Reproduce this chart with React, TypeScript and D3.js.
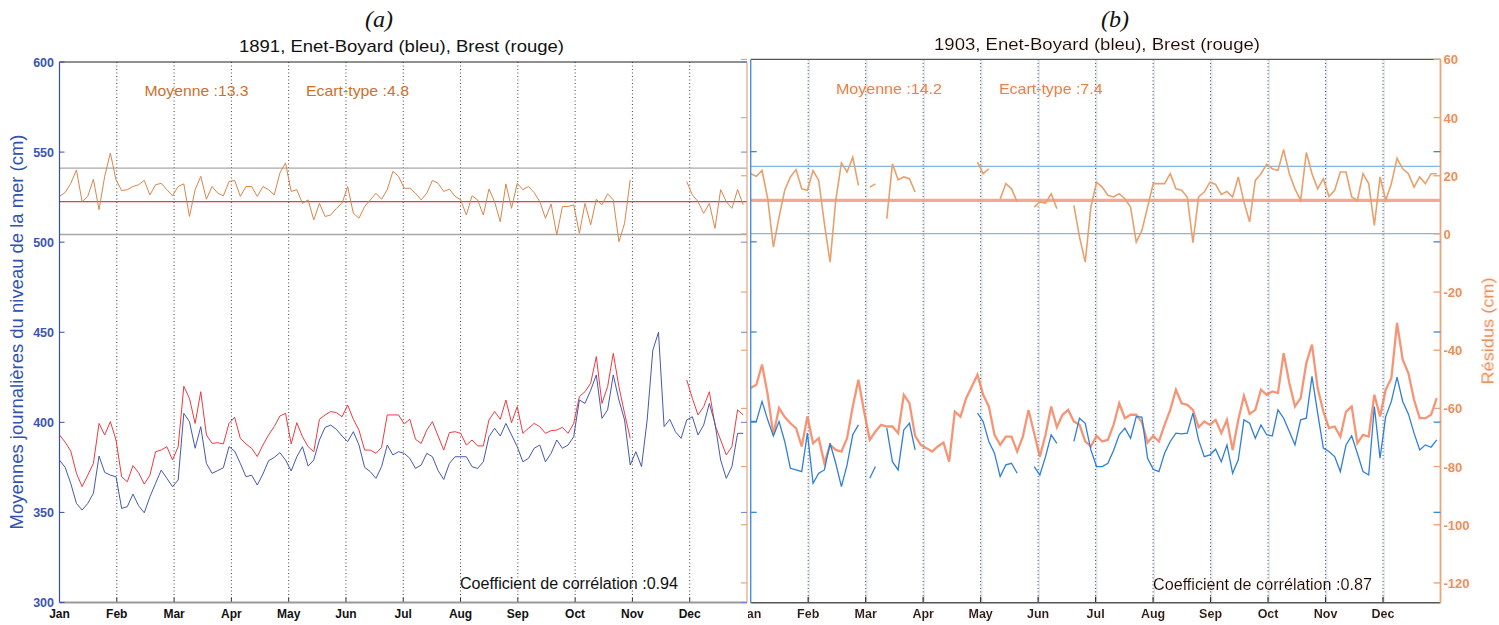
import React from 'react';
import * as d3 from 'd3';

// ---------- data (one value every 3 days, starting 1 January) ----------
const STEP_DAYS = 3;
const MONTHS = ['Jan', 'Feb', 'Mar', 'Apr', 'May', 'Jun', 'Jul', 'Aug', 'Sep', 'Oct', 'Nov', 'Dec'];
const LEFT_TICKS = [300, 350, 400, 450, 500, 550, 600];
const RES_TICKS = [-120, -100, -80, -60, -40, -20, 0, 20, 40, 60];

// (a) 1891 — Enet-Boyard (blue), Brest (red), residuals (orange)
const blueA: (number | null)[] = [
  379, 375, 366, 355, 351.3, 355, 360.6, 381.3, 372.2, 370.7, 369.8, 352.2, 353.2, 360.2, 353.7, 349.8,
  358.7, 366.1, 373.5, 368.9, 364.3, 368, 405, 400.4, 385.6, 397.6, 377.2, 371.7, 373.2, 374.8, 386.5, 384,
  377.2, 369.8, 370.7, 365.2, 371.3, 378.7, 380.5, 383.2, 379.1, 373, 380.9, 386.5, 375.7, 379.1, 390.2, 397.2,
  398.5, 396.1, 392.4, 389.3, 394.8, 387.4, 375, 372.6, 368.9, 375.4, 387.4, 381.9, 383.7, 382.8, 380, 374.4,
  376.3, 382.8, 380.9, 373.2, 368.3, 377.2, 380.9, 380.9, 380.9, 375.4, 374.4, 378.1, 392, 396.7, 392.4, 399.4,
  393, 386.5, 378.1, 380, 385.6, 387.4, 378.1, 382.8, 390.2, 385.6, 387.4, 392, 412.4, 410.5, 417.8, 426.3,
  402.2, 406.9, 426.3, 412.4, 401.3, 376.3, 383.7, 375.4, 401.3, 440, 450, 397.6, 401.7, 394.8, 391.1, 401.3,
  403.1, 393, 398.5, 410.5, 399.4, 379.1, 368.9, 375.4, 393.9, 393.9,
];
const redA: (number | null)[] = [
  393, 389, 384, 371.7, 364.3, 370.7, 377.2, 399.4, 393, 400.4, 390.2, 369.8, 367, 376, 372, 365.7,
  370.7, 383.7, 384.6, 386.5, 379.1, 386.5, 420, 413.3, 399.4, 417, 393, 388.3, 388.7, 388, 399.4, 402.8,
  391.1, 388, 385.6, 381, 387.4, 393, 397.6, 403.5, 405, 388, 399.8, 392, 386.5, 383.7, 401.7, 404.1,
  406, 405.4, 403.1, 409.6, 401.7, 395.7, 384.6, 384.6, 382.8, 386.1, 404.1, 404.1, 404.1, 399.1, 401.7, 390.6,
  388.3, 395.7, 400.4, 392.4, 384.6, 394.3, 394.8, 393.9, 387.4, 390.2, 386.9, 386.9, 401.3, 406, 401.7, 412.4,
  399.8, 408.7, 393.9, 396.7, 399.4, 397.6, 393.9, 395.4, 395.7, 397.2, 393.9, 399.4, 414.3, 417, 421.7, 436.5,
  410.5, 419.8, 438.3, 419.8, 405, 391.1, null, null, null, null, null, null, null, null, null, 423.5,
  413.3, 404.1, 408.7, 417, 398.5, 390.2, 381.9, 386.5, 406.9, 404.1,
];
const residA: (number | null)[] = [
  12.9, 14.2, 17.4, 22, 11.1, 12.9, 18.8, 8.3, 19.8, 27.8, 18.6, 14.9, 15.2, 16.3, 16.9, 18.4,
  13.4, 16.9, 17.4, 15.2, 13.1, 16.3, 17.2, 6.0, 15.2, 19.8, 11.9, 16.3, 14.0, 13.1, 18.0, 18.4,
  12.9, 16.3, 16.3, 12.9, 16.3, 15.2, 13.4, 20.9, 24.4, 14.6, 15.2, 10.5, 11.7, 4.8, 10.5, 6.0,
  6.5, 8.8, 10.5, 16.3, 7.1, 5.4, 9.4, 11.7, 14.0, 11.9, 15.2, 21.5, 19.8, 15.7, 15.7, 14.0,
  11.7, 14.0, 18.4, 17.4, 14.6, 15.4, 12.9, 11.7, 6.5, 13.1, 11.7, 6.5, 15.4, 11.1, 4.2, 17.2,
  8.8, 17.4, 15.2, 16.3, 14.2, 11.1, 5.4, 10.3, -0.4, 9.4, 9.4, 10.0, 0.2, 10.5, 3.1, 11.9,
  10.0, 13.8, 11.7, -2.7, 3.6, 18.6, null, null, null, null, null, null, null, null, null, 18.0,
  13.4, 11.1, 7.1, 10.5, 1.9, 15.2, 11.1, 8.8, 15.2, 10.0,
];
const refLinesA = [22.6, 11.1, -0.2];

// (b) 1903 — Enet-Boyard (blue), Brest (salmon), residuals (orange)
const blueB: (number | null)[] = [
  400.4, 400.4, 411.5, 401.3, 392.4, 400.4, 389.3, 374.4, 373.5, 372.6, 393.9, 366.1, 371.7, 373.5, 388.3, 377.2,
  364.3, 376.3, 393, 398.5, null, 368.9, 375.4, null, 396.7, 378.1, 373.5, 395.7, 399.4, 384.6, null, null,
  null, null, null, null, null, null, null, null, 405, 400.4, 389.3, 382.8, 369.8, 376.3, 377.2, 371.7,
  null, null, 375.4, 370.7, 380.9, 393, 388.3, null, null, 389.3, 402.2, 399.4, 384.6, 375.4, 375.4, 377.2,
  384.3, 393, 396.7, 391.1, 403.1, 402.8, 380, 373.9, 372.6, 382.8, 389.3, 393.9, 393.5, 393.9, 405, 390.2,
  380.9, 381.9, 385, 378.1, 387.4, 371.7, 379.1, 401.3, 399.4, 391.1, 398.5, 393, 392.4, 406.8, 402.2, 394.8,
  387.4, 401.3, 402.2, 425.4, 405, 385.6, 383.7, 380.9, 372.6, 387.4, 392.4, 382.8, 372.6, 370.7, 408.7, 380,
  403.1, 411.5, 425, 411.5, 404.6, 393.9, 384.6, 387.4, 386.1, 390.2,
];
const orangeB: (number | null)[] = [
  418.9, 420.7, 432, 415.2, 393, 407.8, 402.8, 399.4, 396.7, 386.5, 403.1, 388.3, 391.1, 377.2, 387.4, 384.6,
  383.7, 391.1, 408.7, 423.5, 405.9, 390.2, 394.8, 398.5, 397.6, 397.6, 393.9, 415.2, 410.5, 392.4, 387.4, 385.6,
  383.7, 386.5, 388.7, 378.1, 405.9, 403.1, 413.3, 419.8, 426.3, 415.2, 408.7, 393, 387.4, 392, 392, 383.7,
  392, 406.8, 393.9, 380.9, 393, 408.7, 397.2, 404.1, 406.8, 400.4, 398.5, 389.3, 386.5, 392.4, 389.3, 390.2,
  398.5, 410.5, 402.2, 404.1, 404.1, 400, 388.7, 392.4, 389.3, 398.5, 406.8, 418, 410.5, 409.6, 406.8, 397.2,
  400.4, 398.5, 401.3, 393.9, 401.3, 384.6, 401.3, 414.6, 404.6, 406.8, 418, 415.2, 417, 416.1, 438.3, 421.7,
  408.7, 413.3, 432.8, 443, 418.9, 405.9, 396.7, 397.6, 392, 405.9, 408.7, 388.3, 393, 392, 415.2, 403.1,
  418, 424.4, 455, 434.6, 427.2, 412.4, 402.2, 402.2, 404.1, 413.3,
];
const residB: (number | null)[] = [
  20.7, 19.8, 21.8, 12.1, -4.5, 5.8, 15.0, 19.6, 22.1, 15.5, 15.0, 21.8, 18.4, 3.5, -9.7, 11.5,
  24.4, 21.3, 26.4, 16.7, null, 16.1, 17.2, null, 5.2, 24.1, 18.6, 19.6, 19.0, 14.4, null, null,
  null, null, null, null, null, null, null, null, 24.7, 20.7, 22.4, null, 12, 17.3, 15.5, 11.0,
  null, null, 9.2, 11.0, 10.6, 13.8, 8.7, null, null, 9.8, -1.1, -9.7, 9.2, 17.8, 16.1, 13.3,
  12.7, 13.8, 12.1, 9.2, -2.8, 1.2, 9.2, 17.3, 17.3, 17.3, 20.7, 15.5, 15.0, 12.7, -3.0, 12.7,
  14.4, 17.8, 17.0, 13.6, 14.6, 12.7, 19.6, 11.0, 4.1, 18.4, 20.7, 23.9, 22.4, 21.8, 29, 20.7,
  15.5, 11.5, 28, 20.7, 15.5, 19.0, 12.9, 15.0, 21.3, 21.3, 12.7, 11.5, 20.7, 17.3, 2.9, 19.6,
  11.5, 17.3, 26, 22.4, 20.7, 16.1, 19.6, 17.3, 20.7, 20.7,
];
const refLinesB = [23.2, 11.5, 0.1];

const STATS_A = { mean: '13.3', sd: '4.8', corr: '0.94' };
const STATS_B = { mean: '14.2', sd: '7.4', corr: '0.87' };

const FONT = "'Liberation Sans', Arial, Helvetica, sans-serif";
const SERIF = "'Liberation Serif', 'Times New Roman', serif";

export default function App() {
  const xA = d3.scaleLinear().domain([0, 365]).range([59.5, 747]);
  const xB = d3.scaleLinear().domain([0, 365]).range([750.7, 1440.5]);
  const yL = d3.scaleLinear().domain([300, 600]).range([602.5, 62]);
  const yLb = d3.scaleLinear().domain([300, 600]).range([602.5, 61.5]);
  const yR = d3.scaleLinear().domain([-126.8, 60]).range([602.7, 59.4]);

  const mkLine = (x: d3.ScaleLinear<number, number>, y: d3.ScaleLinear<number, number>) =>
    d3
      .line<number | null>()
      .defined((v) => v != null)
      .x((_, i) => x(i * STEP_DAYS))
      .y((v) => y(v as number))
      .curve(d3.curveLinear);

  const monthDays = MONTHS.map((_, i) => (i * 365) / 12);

  const [aTop, aBot] = [yL.range()[1], yL.range()[0]];
  const [bTop, bBot] = [yR.range()[1], yR.range()[0]];

  const fit = (len: number) => ({ textLength: len, lengthAdjust: 'spacingAndGlyphs' as const });

  return (
    <svg
      width={1499}
      height={625}
      style={{ position: 'absolute', left: 0, top: 0, background: '#fff' }}
      fontFamily={FONT}
    >
      <defs>
        <clipPath id="clipB">
          <rect x={748.5} y={0} width={760} height={625} />
        </clipPath>
        <filter id="soft" x="-5%" y="-5%" width="110%" height="110%">
          <feGaussianBlur stdDeviation="0.5" />
        </filter>
        <filter id="glow" x="-10%" y="-30%" width="120%" height="160%">
          <feGaussianBlur in="SourceAlpha" stdDeviation="2.2" result="b" />
          <feFlood floodColor="#f6c8b8" floodOpacity="0.5" />
          <feComposite in2="b" operator="in" result="g" />
          <feMerge>
            <feMergeNode in="g" />
            <feMergeNode in="SourceGraphic" />
          </feMerge>
        </filter>
      </defs>

      {/* ================= Panel (a) ================= */}
      <text x={379} y={27} textAnchor="middle" fontFamily={SERIF} fontStyle="italic" fontSize={24} fill="#111">
        (a)
      </text>
      <text x={401.5} y={52} textAnchor="middle" fontSize={17} fill="#111" {...fit(325)}>
        1891, Enet-Boyard (bleu), Brest (rouge)
      </text>

      {/* month grid */}
      {monthDays.slice(1).map((d, i) => (
        <g key={'ga' + i}>
          <line x1={xA(d)} x2={xA(d)} y1={aTop} y2={aBot} stroke="#444" strokeWidth={1} strokeDasharray="1,2.5" />
          <line x1={xA(d)} x2={xA(d)} y1={aBot - 5} y2={aBot} stroke="#333" strokeWidth={1} />
        </g>
      ))}

      {/* residual reference lines */}
      {refLinesA.map((v, i) => (
        <line
          key={'ra' + i}
          x1={xA(0)}
          x2={xA(365)}
          y1={yR(v)}
          y2={yR(v)}
          stroke={i === 1 ? '#ec3c42' : '#a8a8a8'}
          strokeWidth={1.3}
        />
      ))}

      {/* series */}
      <path d={mkLine(xA, yR)(residA) || ''} fill="none" stroke="#d9864a" strokeWidth={1} />
      <path d={mkLine(xA, yL)(redA) || ''} fill="none" stroke="#ee3a42" strokeWidth={1} />
      <path d={mkLine(xA, yL)(blueA) || ''} fill="none" stroke="#4459ad" strokeWidth={1} />

      {/* frame */}
      <line x1={xA(0)} x2={xA(365)} y1={aTop} y2={aTop} stroke="#222" strokeWidth={1} />
      <line x1={xA(0)} x2={xA(365)} y1={aBot} y2={aBot} stroke="#999" strokeWidth={1.8} />
      <line x1={xA(0)} x2={xA(0)} y1={aTop} y2={aBot} stroke="#3550a8" strokeWidth={1.2} />
      <line x1={xA(365)} x2={xA(365)} y1={aTop} y2={aBot} stroke="#e6a77a" strokeWidth={1.2} />

      {/* left axis ticks + labels */}
      {LEFT_TICKS.map((v) => (
        <g key={'la' + v}>
          <line x1={xA(0)} x2={xA(0) + 5} y1={yL(v)} y2={yL(v)} stroke="#3550a8" />
          <line x1={xA(365) - 6} x2={xA(365)} y1={yL(v)} y2={yL(v)} stroke="#6f84c8" />
          <text x={54} y={yL(v) + 4.5} textAnchor="end" fontSize={12.5} fontWeight="bold" fill="#3a55b0">
            {v}
          </text>
        </g>
      ))}
      {RES_TICKS.map((v) => (
        <line key={'rta' + v} x1={xA(365) - 6} x2={xA(365)} y1={yR(v)} y2={yR(v)} stroke="#e6a77a" strokeWidth={1.2} />
      ))}

      {/* month labels */}
      {MONTHS.map((m, i) => (
        <text key={'ma' + m} x={xA(monthDays[i])} y={618} textAnchor="middle" fontSize={12} fontWeight="bold" fill="#111">
          {m}
        </text>
      ))}

      {/* annotations */}
      <text x={144.5} y={96} fontSize={15} fill="#cf6f2a" {...fit(104)}>
        Moyenne :{STATS_A.mean}
      </text>
      <text x={306} y={96} fontSize={15} fill="#cf6f2a" {...fit(103)}>
        Ecart-type :{STATS_A.sd}
      </text>
      <text x={460} y={589} fontSize={16} fill="#111" {...fit(218)}>
        Coefficient de corrélation :{STATS_A.corr}
      </text>

      <text transform={`translate(23,332) rotate(-90)`} textAnchor="middle" fontSize={18} fill="#3152b0" {...fit(395)}>
        Moyennes journalières du niveau de la mer (cm)
      </text>

      {/* ================= Panel (b) ================= */}
      <text x={1115} y={27} textAnchor="middle" fontFamily={SERIF} fontStyle="italic" fontSize={24} fill="#111">
        (b)
      </text>
      <text x={1097} y={50} textAnchor="middle" fontSize={17} fill="#111" filter="url(#glow)" {...fit(326)}>
        1903, Enet-Boyard (bleu), Brest (rouge)
      </text>

      {monthDays.slice(1).map((d, i) => (
        <g key={'gb' + i}>
          <line x1={xB(d) + 1.2} x2={xB(d) + 1.2} y1={bTop} y2={bBot} stroke="#dce8f4" strokeWidth={1.4} />
          <line x1={xB(d)} x2={xB(d)} y1={bTop} y2={bBot} stroke="#3a3a3a" strokeWidth={1} strokeDasharray="1,2.5" />
          <line x1={xB(d)} x2={xB(d)} y1={bBot - 6} y2={bBot} stroke="#333" strokeWidth={1.2} />
        </g>
      ))}

      {refLinesB.map((v, i) => (
        <line
          key={'rb' + i}
          x1={xB(0)}
          x2={xB(365)}
          y1={yR(v)}
          y2={yR(v)}
          stroke={i === 1 ? '#f39a7e' : '#86b6dc'}
          strokeWidth={i === 1 ? 3.2 : 1.2}
          opacity={i === 1 ? 0.85 : 1}
        />
      ))}

      <g filter="url(#soft)">
        <path d={mkLine(xB, yR)(residB) || ''} fill="none" stroke="#e8a06c" strokeWidth={1.6} />
        <path d={mkLine(xB, yLb)(orangeB) || ''} fill="none" stroke="#f4825e" strokeWidth={2.3} opacity={0.85} />
        <path d={mkLine(xB, yLb)(blueB) || ''} fill="none" stroke="#2f7fd6" strokeWidth={1.3} />
      </g>

      {/* frame b */}
      <line x1={xB(0)} x2={xB(365)} y1={bTop} y2={bTop} stroke="#555" strokeWidth={1.3} />
      <line x1={xB(0)} x2={xB(365)} y1={bBot} y2={bBot} stroke="#555" strokeWidth={1.4} />
      <line x1={xB(0)} x2={xB(0)} y1={bTop} y2={bBot} stroke="#4b8fd8" strokeWidth={1.4} />
      <line x1={xB(365)} x2={xB(365)} y1={bTop} y2={bBot} stroke="#e9a67c" strokeWidth={1.8} />

      {LEFT_TICKS.slice(1, -1).map((v) => (
        <g key={'lb' + v}>
          <line x1={xB(0)} x2={xB(0) + 6} y1={yLb(v)} y2={yLb(v)} stroke="#3b8ad8" strokeWidth={1.3} />
          <line x1={xB(365) - 7} x2={xB(365)} y1={yLb(v)} y2={yLb(v)} stroke="#3b8ad8" strokeWidth={1.3} />
        </g>
      ))}
      {RES_TICKS.map((v) => (
        <g key={'rtb' + v}>
          <line x1={xB(365) - 7} x2={xB(365)} y1={yR(v)} y2={yR(v)} stroke="#e9a67c" strokeWidth={1.4} />
          <text x={1443.5} y={yR(v) + 5} fontSize={13} fontWeight="bold" fill="#e3935e" filter="url(#glow)">
            {v}
          </text>
        </g>
      ))}

      <g clipPath="url(#clipB)">
        {MONTHS.map((m, i) => (
          <text key={'mb' + m} x={xB(monthDays[i])} y={618} textAnchor="middle" fontSize={12.5} fontWeight="bold" fill="#222" filter="url(#glow)">
            {m}
          </text>
        ))}
      </g>

      <text x={836} y={94} fontSize={15} fill="#e0864c" filter="url(#glow)" {...fit(106)}>
        Moyenne :{STATS_B.mean}
      </text>
      <text x={999} y={94} fontSize={15} fill="#e0864c" filter="url(#glow)" {...fit(103.5)}>
        Ecart-type :{STATS_B.sd}
      </text>
      <text x={1153} y={590} fontSize={16} fill="#111" filter="url(#glow)" {...fit(219)}>
        Coefficient de corrélation :{STATS_B.corr}
      </text>

      <text transform={`translate(1493.5,331) rotate(-90)`} textAnchor="middle" fontSize={17} fill="#e8935c" filter="url(#glow)" {...fit(107)}>
        Résidus (cm)
      </text>
    </svg>
  );
}
